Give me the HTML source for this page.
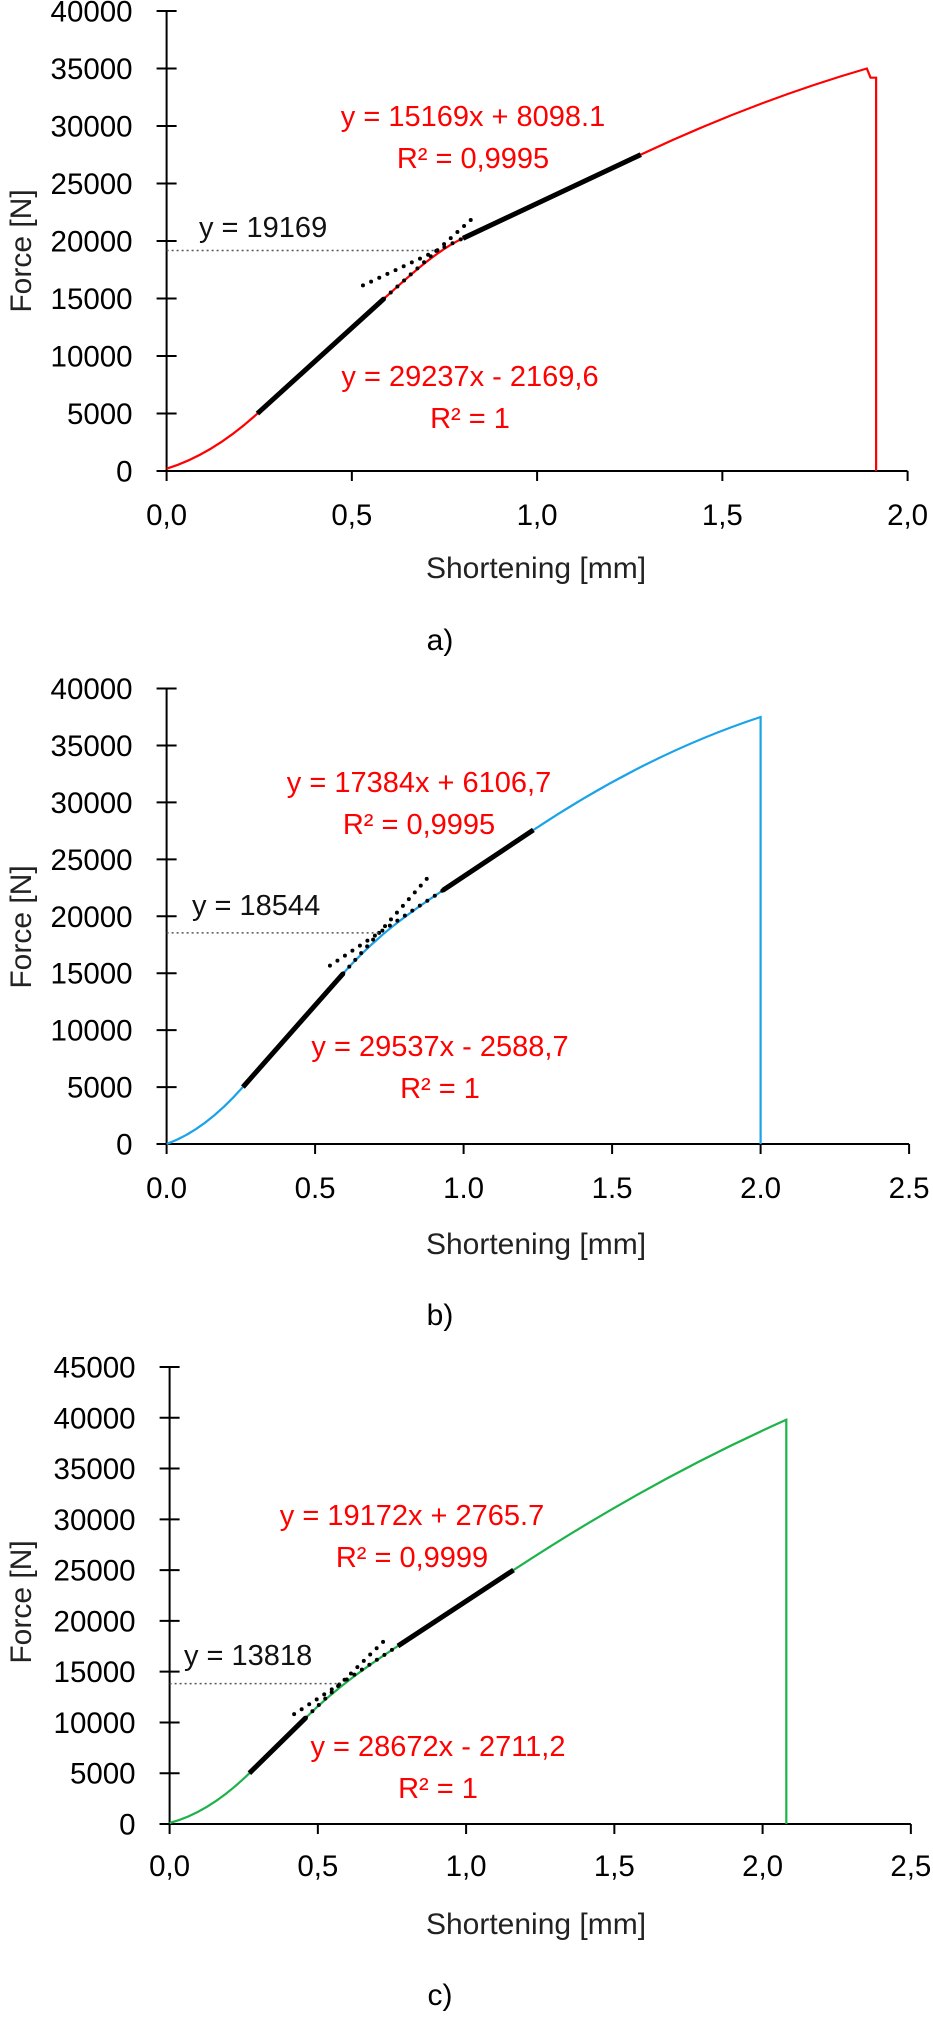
<!DOCTYPE html>
<html><head><meta charset="utf-8">
<style>
html,body{margin:0;padding:0;background:#fff;}
svg{display:block;}
text{font-family:"Liberation Sans",sans-serif;}
</style></head>
<body>
<svg id="s" width="933" height="2018" xmlns="http://www.w3.org/2000/svg"></svg>
<script>
const S=document.getElementById('s');
let out='';
function chart(c){
  const X=x=>c.x0+x*c.px, Y=f=>c.y0-f*c.py;
  out+=`<line x1="${c.x0}" y1="${Y(c.ymax)}" x2="${c.x0}" y2="${c.y0}" stroke="#000" stroke-width="2"/>`;
  out+=`<line x1="${c.x0-10}" y1="${c.y0}" x2="${X(c.xmax)}" y2="${c.y0}" stroke="#000" stroke-width="2"/>`;
  for(let f=0;f<=c.ymax;f+=5000){
    out+=`<line x1="${c.x0-10}" y1="${Y(f)}" x2="${c.x0+10}" y2="${Y(f)}" stroke="#000" stroke-width="2"/>`;
    out+=`<text x="${c.x0-34}" y="${Y(f)+10.5}" font-size="29.5" text-anchor="end" fill="#000">${f}</text>`;
  }
  for(let i=0;i<=c.xmax*2+0.01;i++){
    const x=i*0.5;
    out+=`<line x1="${X(x)}" y1="${c.y0}" x2="${X(x)}" y2="${c.y0+10}" stroke="#000" stroke-width="2"/>`;
    out+=`<text x="${X(x)}" y="${c.ty}" font-size="29.5" text-anchor="middle">${x.toFixed(1).replace('.',c.sep)}</text>`;
  }
  out+=`<text x="536" y="${c.tt}" font-size="30" text-anchor="middle" fill="#222">Shortening [mm]</text>`;
  out+=`<text transform="translate(31,${c.fy}) rotate(-90)" font-size="30" text-anchor="middle" fill="#222">Force [N]</text>`;
  out+=`<text x="440" y="${c.ly}" font-size="30" text-anchor="middle" fill="#000">${c.lab}</text>`;
  const L1=x=>c.a1*x+c.b1, L2=x=>c.a2*x+c.b2;
  const p=(x,f)=>`${X(x).toFixed(1)},${Y(f).toFixed(1)}`;
  let d=`M${p(0,c.f0)} Q${p(c.x1/2,L1(c.x1/2))} ${p(c.x1,L1(c.x1))}`;
  d+=` L${p(c.x2,L1(c.x2))}`;
  const dx=(c.x3-c.x2)/3;
  d+=` C${p(c.x2+dx,L1(c.x2+dx))} ${p(c.x3-dx,L2(c.x3-dx))} ${p(c.x3,L2(c.x3))}`;
  d+=` L${p(c.x4,L2(c.x4))}`;
  const xm=(c.x4+c.xp)/2;
  d+=` Q${p(xm,L2(xm))} ${p(c.xp,c.fp)}`;
  d+=c.tail;
  out+=`<path d="${d}" fill="none" stroke="${c.col}" stroke-width="2.2"/>`;
  out+=`<line x1="${X(c.x1)}" y1="${Y(L1(c.x1))}" x2="${X(c.x2)}" y2="${Y(L1(c.x2))}" stroke="#000" stroke-width="5"/>`;
  out+=`<line x1="${X(c.x3)}" y1="${Y(L2(c.x3))}" x2="${X(c.x4)}" y2="${Y(L2(c.x4))}" stroke="#000" stroke-width="5"/>`;
  out+=`<line x1="${X(c.x2)}" y1="${Y(L1(c.x2))}" x2="${X(c.e1)}" y2="${Y(L1(c.e1))}" stroke="#000" stroke-width="4" stroke-linecap="round" stroke-dasharray="0 9"/>`;
  out+=`<line x1="${X(c.e2)}" y1="${Y(L2(c.e2))}" x2="${X(c.x3)}" y2="${Y(L2(c.x3))}" stroke="#000" stroke-width="4" stroke-linecap="round" stroke-dasharray="0 9"/>`;
  const xi=(c.b2-c.b1)/(c.a1-c.a2);
  out+=`<line x1="${c.x0}" y1="${Y(c.yi)}" x2="${X(xi)}" y2="${Y(c.yi)}" stroke="#555" stroke-width="1.5" stroke-dasharray="2 3"/>`;
  out+=`<text x="${c.hx}" y="${c.hy+10}" font-size="29" fill="#111">y = ${c.yi}</text>`;
  out+=`<text x="${c.ux}" y="${c.uy+10}" font-size="29" text-anchor="middle" fill="#f00">${c.ue}</text>`;
  out+=`<text x="${c.ux}" y="${c.uy+52}" font-size="29" text-anchor="middle" fill="#f00">${c.ur}</text>`;
  out+=`<text x="${c.lx}" y="${c.lyy+10}" font-size="29" text-anchor="middle" fill="#f00">${c.le}</text>`;
  out+=`<text x="${c.lx}" y="${c.lyy+52}" font-size="29" text-anchor="middle" fill="#f00">R² = 1</text>`;
}
(function(){
 const x0=166.6,px=370.5,y0=471,py=460/40000;
 const X=x=>x0+x*px,Y=f=>y0-f*py;
 chart({x0,px,y0,py,ymax:40000,xmax:2,sep:',',ty:525,tt:578,fy:251,ly:650,lab:'a)',
  col:'#f00',f0:200,a1:29237,b1:-2169.6,a2:15169,b2:8098.1,x1:0.245,x2:0.587,x3:0.8,x4:1.28,xp:1.89,fp:35000,
  tail:` L${X(1.9)},${Y(34200)} L${X(1.915)},${Y(34200)} L${X(1.915)},${Y(0)}`,
  e1:0.83,e2:0.53,yi:19169,hx:199,hy:227,ux:473,uy:116,ue:'y = 15169x + 8098.1',ur:'R² = 0,9995',
  lx:470,lyy:376,le:'y = 29237x - 2169,6'});
})();
(function(){
 const x0=166.6,px=297,y0=1144,py=455.5/40000;
 const X=x=>x0+x*px,Y=f=>y0-f*py;
 chart({x0,px,y0,py,ymax:40000,xmax:2.5,sep:'.',ty:1198,tt:1254,fy:927,ly:1325,lab:'b)',
  col:'#1aa3e8',f0:0,a1:29537,b1:-2588.7,a2:17384,b2:6106.7,x1:0.257,x2:0.595,x3:0.93,x4:1.235,xp:2.0,fp:37500,
  tail:` L${X(2.0)},${Y(0)}`,
  e1:0.89,e2:0.55,yi:18544,hx:192,hy:905,ux:419,uy:782,ue:'y = 17384x + 6106,7',ur:'R² = 0,9995',
  lx:440,lyy:1046,le:'y = 29537x - 2588,7'});
})();
(function(){
 const x0=169.6,px=296.5,y0=1824,py=457/45000;
 const X=x=>x0+x*px,Y=f=>y0-f*py;
 chart({x0,px,y0,py,ymax:45000,xmax:2.5,sep:',',ty:1876,tt:1934,fy:1602,ly:2005,lab:'c)',
  col:'#1db34a',f0:100,a1:28672,b1:-2711.2,a2:19172,b2:2765.7,x1:0.269,x2:0.46,x3:0.77,x4:1.16,xp:2.08,fp:39800,
  tail:` L${X(2.08)},${Y(0)}`,
  e1:0.73,e2:0.42,yi:13818,hx:184,hy:1655,ux:412,uy:1515,ue:'y = 19172x + 2765.7',ur:'R² = 0,9999',
  lx:438,lyy:1746,le:'y = 28672x - 2711,2'});
})();
S.innerHTML=out;
</script>
</body></html>
